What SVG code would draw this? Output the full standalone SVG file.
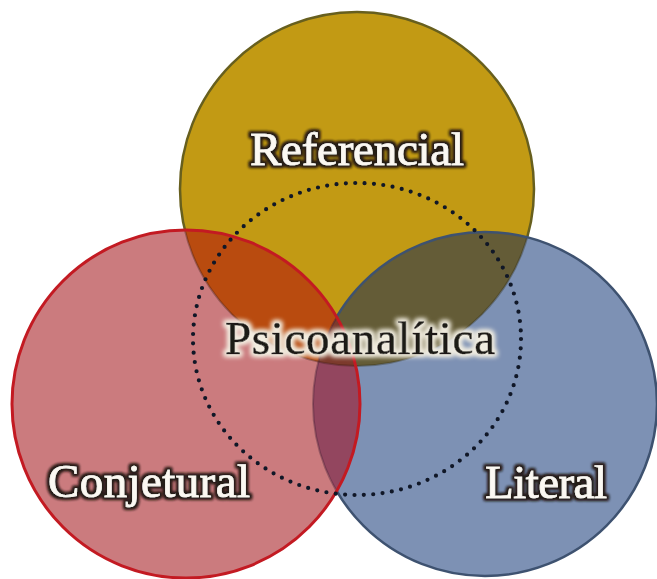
<svg xmlns="http://www.w3.org/2000/svg" width="657" height="579" viewBox="0 0 657 579">
  <defs>
    <style>
      .label { font-family: "Liberation Serif", "DejaVu Serif", serif; font-size: 47px; stroke-width: 0.7px; }
      .light { fill: #fbf8f2; stroke: #fbf8f2; filter: url(#darkHalo); }
      .dark { fill: #1c1a18; stroke: #1c1a18; filter: url(#lightHalo); }
      .faint-edge { fill: none; stroke-width: 2; opacity: 0.35; }
    </style>
    <!-- circle shapes reused for clipping -->
    <clipPath id="clipGold"><circle cx="357" cy="189" r="177"/></clipPath>
    <clipPath id="clipBlue"><circle cx="485" cy="404" r="172"/></clipPath>
    <clipPath id="clipRed"><circle cx="186" cy="404" r="174"/></clipPath>
    <filter id="darkHalo" x="-10%" y="-30%" width="120%" height="160%">
      <feMorphology in="SourceAlpha" operator="dilate" radius="1.7" result="grow"/>
      <feGaussianBlur in="grow" stdDeviation="1.7" result="soft"/>
      <feFlood flood-color="#261d18" flood-opacity="0.95"/>
      <feComposite in2="soft" operator="in" result="halo"/>
      <feMerge><feMergeNode in="halo"/><feMergeNode in="halo"/><feMergeNode in="SourceGraphic"/></feMerge>
    </filter>
    <filter id="lightHalo" x="-10%" y="-30%" width="120%" height="160%">
      <feMorphology in="SourceAlpha" operator="dilate" radius="2.2" result="grow"/>
      <feGaussianBlur in="grow" stdDeviation="2.4" result="soft"/>
      <feFlood flood-color="#f3efe2" flood-opacity="0.95"/>
      <feComposite in2="soft" operator="in" result="halo"/>
      <feMerge><feMergeNode in="halo"/><feMergeNode in="halo"/><feMergeNode in="SourceGraphic"/></feMerge>
    </filter>
  </defs>

  <!-- top circle -->
  <g id="referencial">
    <circle cx="357" cy="189" r="177" fill="#c29a14" stroke="#675f1e" stroke-width="2.5"/>
    <text class="label light" x="250" y="165" textLength="214" lengthAdjust="spacing">Referencial</text>
  </g>

  <!-- right circle, painted over the top one -->
  <g id="literal">
    <circle cx="485" cy="404" r="172" fill="#7d91b4"/>
    <circle cx="485" cy="404" r="172" fill="#645c37" clip-path="url(#clipGold)"/>
    <circle cx="357" cy="189" r="177" class="faint-edge" stroke="#2e2a14" clip-path="url(#clipBlue)"/>
    <circle cx="485" cy="404" r="172" fill="none" stroke="#3e5270" stroke-width="2.5"/>
    <text class="label light" x="485" y="498" textLength="122" lengthAdjust="spacing">Literal</text>
  </g>

  <!-- left circle, painted over both others -->
  <g id="conjetural">
    <circle cx="186" cy="404" r="174" fill="#cb7b7e"/>
    <circle cx="186" cy="404" r="174" fill="#b94b0f" clip-path="url(#clipGold)"/>
    <circle cx="186" cy="404" r="174" fill="#93465f" clip-path="url(#clipBlue)"/>
    <g clip-path="url(#clipGold)">
      <circle cx="186" cy="404" r="174" fill="#7c3a2c" clip-path="url(#clipBlue)"/>
    </g>
    <g clip-path="url(#clipRed)">
      <circle cx="357" cy="189" r="177" class="faint-edge" stroke="#3a1a10"/>
      <circle cx="485" cy="404" r="172" class="faint-edge" stroke="#3a1a30"/>
    </g>
    <circle cx="186" cy="404" r="174" fill="none" stroke="#c31a22" stroke-width="3"/>
    <text class="label light" x="48" y="497" textLength="202" lengthAdjust="spacing">Conjetural</text>
  </g>

  <!-- dotted central ring -->
  <g id="psicoanalitica">
    <ellipse cx="357" cy="339" rx="164" ry="156" fill="none" stroke="#101727" stroke-width="4.2" stroke-linecap="round" stroke-dasharray="0 9.4"/>
    <text class="label dark" x="225" y="354" textLength="270" lengthAdjust="spacing">Psicoanalítica</text>
  </g>
</svg>
